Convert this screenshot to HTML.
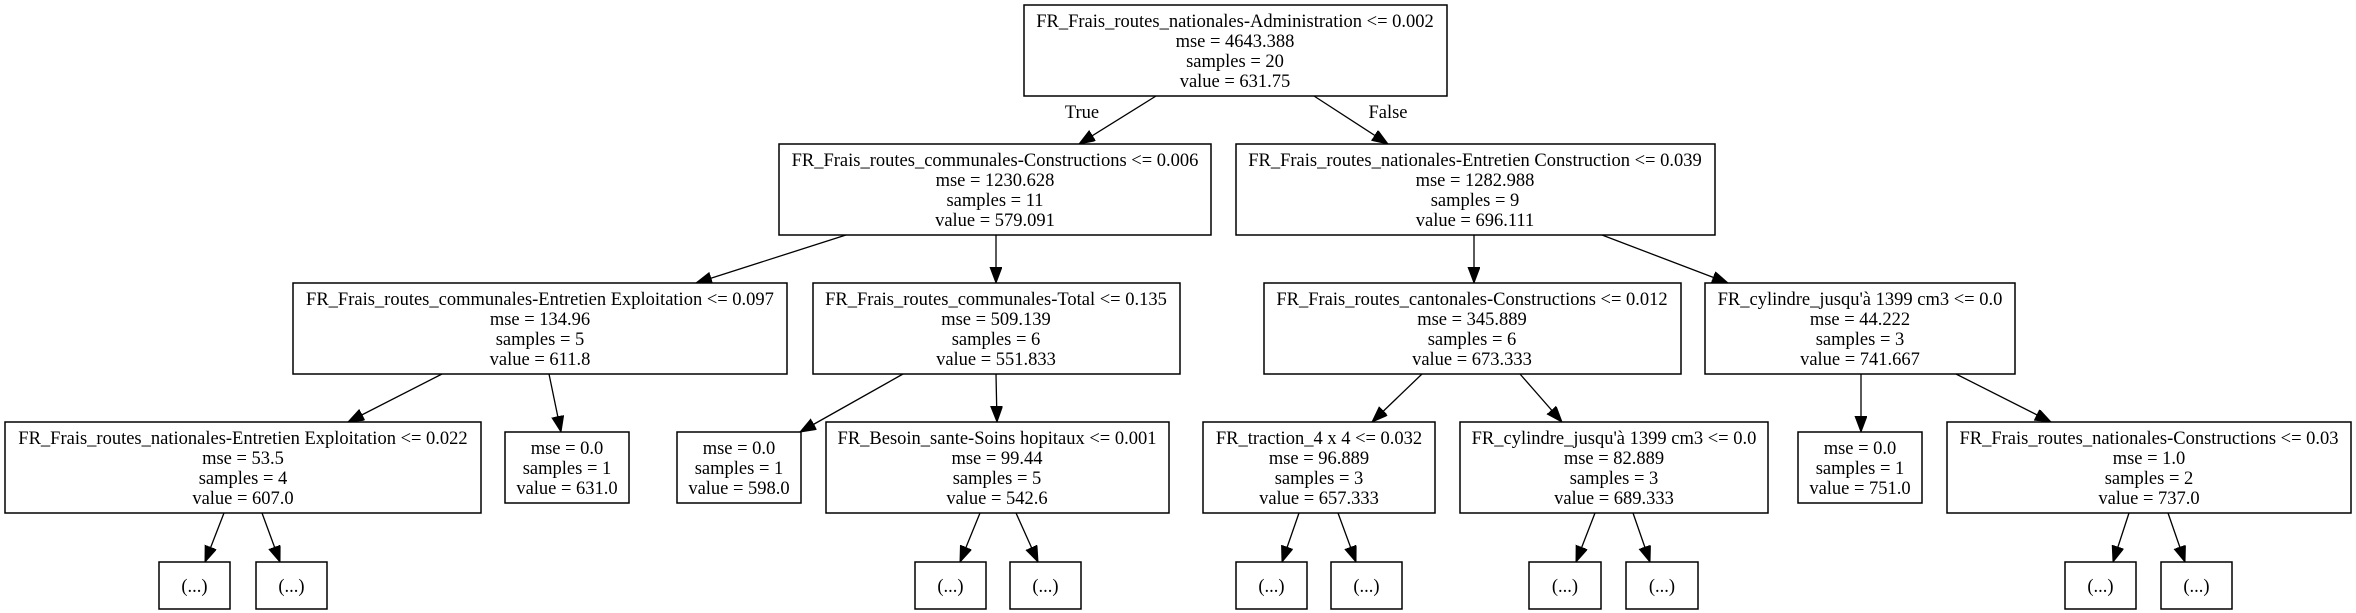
<!DOCTYPE html>
<html><head><meta charset="utf-8"><style>
html,body{margin:0;padding:0;background:#fff;}
svg{display:block;}
text{font-family:"Liberation Serif",serif;font-size:18.5px;fill:#000;text-anchor:middle;}
rect{fill:#fff;stroke:#000;stroke-width:1.5;}
line{stroke:#000;stroke-width:1.3;}
</style></head><body>
<svg width="2356" height="613" viewBox="0 0 2356 613" xmlns="http://www.w3.org/2000/svg">
<defs><marker id="a" markerUnits="userSpaceOnUse" markerWidth="20" markerHeight="14" refX="16" refY="6" orient="auto"><path d="M0,0 L16,6 L0,12 z" fill="#000" stroke="#000"/></marker></defs>
<g>
<line x1="1156" y1="96" x2="1079" y2="144" marker-end="url(#a)"/>
<line x1="1314" y1="96" x2="1388" y2="144" marker-end="url(#a)"/>
<line x1="846" y1="235" x2="696" y2="283" marker-end="url(#a)"/>
<line x1="996" y1="235" x2="996" y2="283" marker-end="url(#a)"/>
<line x1="1474" y1="235" x2="1474" y2="283" marker-end="url(#a)"/>
<line x1="1602" y1="235" x2="1728" y2="283" marker-end="url(#a)"/>
<line x1="442" y1="374" x2="348" y2="422" marker-end="url(#a)"/>
<line x1="549" y1="374" x2="561" y2="432" marker-end="url(#a)"/>
<line x1="903" y1="374" x2="800" y2="432" marker-end="url(#a)"/>
<line x1="996" y1="374" x2="997" y2="422" marker-end="url(#a)"/>
<line x1="1422" y1="374" x2="1372" y2="422" marker-end="url(#a)"/>
<line x1="1520" y1="374" x2="1562" y2="422" marker-end="url(#a)"/>
<line x1="1861" y1="374" x2="1861" y2="432" marker-end="url(#a)"/>
<line x1="1956" y1="374" x2="2051" y2="422" marker-end="url(#a)"/>
<line x1="224" y1="513" x2="205" y2="562" marker-end="url(#a)"/>
<line x1="262" y1="513" x2="280" y2="562" marker-end="url(#a)"/>
<line x1="980" y1="513" x2="960" y2="562" marker-end="url(#a)"/>
<line x1="1016" y1="513" x2="1038" y2="562" marker-end="url(#a)"/>
<line x1="1299" y1="513" x2="1282" y2="562" marker-end="url(#a)"/>
<line x1="1338" y1="513" x2="1356" y2="562" marker-end="url(#a)"/>
<line x1="1595" y1="513" x2="1576" y2="562" marker-end="url(#a)"/>
<line x1="1633" y1="513" x2="1650" y2="562" marker-end="url(#a)"/>
<line x1="2129" y1="513" x2="2113" y2="562" marker-end="url(#a)"/>
<line x1="2168" y1="513" x2="2185" y2="562" marker-end="url(#a)"/>
</g>
<text x="1082" y="118">True</text>
<text x="1388" y="118">False</text>

<rect x="1024" y="5" width="423" height="91"/>
<text x="1235" y="27">FR_Frais_routes_nationales-Administration &lt;= 0.002</text>
<text x="1235" y="47">mse = 4643.388</text><text x="1235" y="67">samples = 20</text><text x="1235" y="87">value = 631.75</text>

<rect x="779" y="144" width="432" height="91"/>
<text x="995" y="166">FR_Frais_routes_communales-Constructions &lt;= 0.006</text>
<text x="995" y="186">mse = 1230.628</text><text x="995" y="206">samples = 11</text><text x="995" y="226">value = 579.091</text>

<rect x="1236" y="144" width="479" height="91"/>
<text x="1475" y="166">FR_Frais_routes_nationales-Entretien Construction &lt;= 0.039</text>
<text x="1475" y="186">mse = 1282.988</text><text x="1475" y="206">samples = 9</text><text x="1475" y="226">value = 696.111</text>

<rect x="293" y="283" width="494" height="91"/>
<text x="540" y="305">FR_Frais_routes_communales-Entretien Exploitation &lt;= 0.097</text>
<text x="540" y="325">mse = 134.96</text><text x="540" y="345">samples = 5</text><text x="540" y="365">value = 611.8</text>

<rect x="813" y="283" width="367" height="91"/>
<text x="996" y="305">FR_Frais_routes_communales-Total &lt;= 0.135</text>
<text x="996" y="325">mse = 509.139</text><text x="996" y="345">samples = 6</text><text x="996" y="365">value = 551.833</text>

<rect x="1264" y="283" width="417" height="91"/>
<text x="1472" y="305">FR_Frais_routes_cantonales-Constructions &lt;= 0.012</text>
<text x="1472" y="325">mse = 345.889</text><text x="1472" y="345">samples = 6</text><text x="1472" y="365">value = 673.333</text>

<rect x="1705" y="283" width="310" height="91"/>
<text x="1860" y="305">FR_cylindre_jusqu'à 1399 cm3 &lt;= 0.0</text>
<text x="1860" y="325">mse = 44.222</text><text x="1860" y="345">samples = 3</text><text x="1860" y="365">value = 741.667</text>

<rect x="5" y="422" width="476" height="91"/>
<text x="243" y="444">FR_Frais_routes_nationales-Entretien Exploitation &lt;= 0.022</text>
<text x="243" y="464">mse = 53.5</text><text x="243" y="484">samples = 4</text><text x="243" y="504">value = 607.0</text>

<rect x="505" y="432" width="124" height="71"/>
<text x="567" y="454">mse = 0.0</text><text x="567" y="474">samples = 1</text><text x="567" y="494">value = 631.0</text>

<rect x="677" y="432" width="124" height="71"/>
<text x="739" y="454">mse = 0.0</text><text x="739" y="474">samples = 1</text><text x="739" y="494">value = 598.0</text>

<rect x="826" y="422" width="343" height="91"/>
<text x="997" y="444">FR_Besoin_sante-Soins hopitaux &lt;= 0.001</text>
<text x="997" y="464">mse = 99.44</text><text x="997" y="484">samples = 5</text><text x="997" y="504">value = 542.6</text>

<rect x="1203" y="422" width="232" height="91"/>
<text x="1319" y="444">FR_traction_4 x 4 &lt;= 0.032</text>
<text x="1319" y="464">mse = 96.889</text><text x="1319" y="484">samples = 3</text><text x="1319" y="504">value = 657.333</text>

<rect x="1460" y="422" width="308" height="91"/>
<text x="1614" y="444">FR_cylindre_jusqu'à 1399 cm3 &lt;= 0.0</text>
<text x="1614" y="464">mse = 82.889</text><text x="1614" y="484">samples = 3</text><text x="1614" y="504">value = 689.333</text>

<rect x="1798" y="432" width="124" height="71"/>
<text x="1860" y="454">mse = 0.0</text><text x="1860" y="474">samples = 1</text><text x="1860" y="494">value = 751.0</text>

<rect x="1947" y="422" width="404" height="91"/>
<text x="2149" y="444">FR_Frais_routes_nationales-Constructions &lt;= 0.03</text>
<text x="2149" y="464">mse = 1.0</text><text x="2149" y="484">samples = 2</text><text x="2149" y="504">value = 737.0</text>

<rect x="159" y="562" width="71" height="47"/><text x="194.5" y="592">(...)</text>
<rect x="256" y="562" width="71" height="47"/><text x="291.5" y="592">(...)</text>
<rect x="915" y="562" width="71" height="47"/><text x="950.5" y="592">(...)</text>
<rect x="1010" y="562" width="71" height="47"/><text x="1045.5" y="592">(...)</text>
<rect x="1236" y="562" width="71" height="47"/><text x="1271.5" y="592">(...)</text>
<rect x="1331" y="562" width="71" height="47"/><text x="1366.5" y="592">(...)</text>
<rect x="1529" y="562" width="72" height="47"/><text x="1565" y="592">(...)</text>
<rect x="1626" y="562" width="72" height="47"/><text x="1662" y="592">(...)</text>
<rect x="2065" y="562" width="71" height="47"/><text x="2100.5" y="592">(...)</text>
<rect x="2161" y="562" width="71" height="47"/><text x="2196.5" y="592">(...)</text>
</svg>
</body></html>
